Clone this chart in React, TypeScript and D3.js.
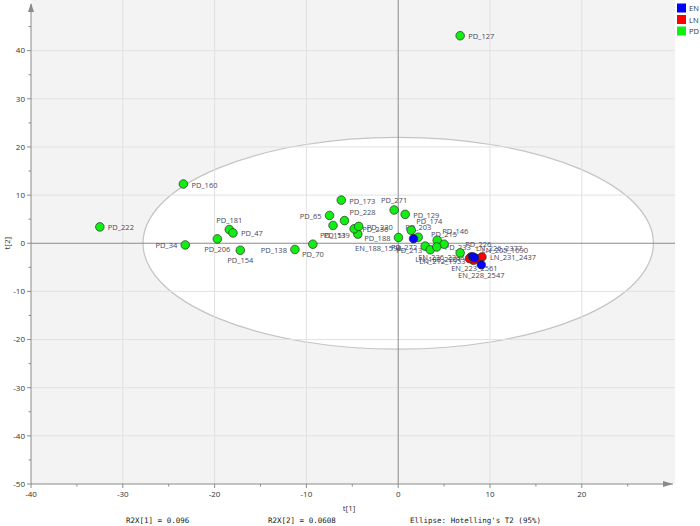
import React from "react";
import * as d3 from "d3";

// ---- data ----
const xTicks = [-40, -30, -20, -10, 0, 10, 20];
const yTicks = [-50, -40, -30, -20, -10, 0, 10, 20, 30, 40];
const groups = ["EN", "LN", "PD"];
const groupColors = ["#0000ff", "#ff0000", "#11ee11"];

// [label, t[1], t[2]]
const pdPoints: [string, number, number][] = [
  ["PD_127", 6.75, 43.1],
  ["PD_160", -23.4, 12.3],
  ["PD_222", -32.5, 3.4],
  ["PD_34", -23.2, -0.35],
  ["PD_206", -19.7, 0.9],
  ["PD_181", -18.4, 2.85],
  ["PD_47", -18.0, 2.15],
  ["PD_154", -17.2, -1.46],
  ["PD_138", -11.25, -1.3],
  ["PD_70", -9.3, -0.2],
  ["PD_65", -7.48, 5.77],
  ["PD_151", -7.1, 3.7],
  ["PD_173", -6.2, 8.96],
  ["PD_228", -5.85, 4.7],
  ["PD_139", -4.4, 1.9],
  ["PD_236", -4.8, 3.0],
  ["PD_230", -4.3, 3.5],
  ["PD_271", -0.44, 6.9],
  ["PD_129", 0.76, 6.0],
  ["PD_174", 1.42, 2.7],
  ["PD_203", 2.18, 1.25],
  ["PD_188", 0.03, 1.19],
  ["PD_272", 2.94, -0.6],
  ["PD_213", 3.49, -1.35],
  ["PD_146", 4.25, 0.63],
  ["PD_215", 5.0, -0.2],
  ["PD_233", 4.2, -0.77],
  ["PD_226", 6.75, -2.0],
];

const lnPoints: [string, number, number][] = [
  ["LN_226_2377", 7.92, -2.85],
  ["LN_205_1690", 8.57, -3.19],
  ["LN_231_2437", 9.12, -2.85],
  ["LN_212_1953", 8.2, -3.54],
  ["LN_188_2201", 7.77, -3.19],
];

const enPoints: [string, number, number][] = [
  ["EN_188_1596", 1.67, 0.95],
  ["EN_236_2388", 8.1, -2.8],
  ["EN_223_2561", 8.3, -3.0],
  ["EN_228_2547", 9.05, -4.45],
];

// label placement per point: r right, l left, a above, b below, ar above-right, bl below-left
const labelSide: Record<string, string> = {
  PD_34: "l", PD_206: "b", PD_181: "a", PD_154: "b", PD_138: "l", PD_70: "b",
  PD_65: "l", PD_151: "b", PD_228: "ar", PD_139: "l", PD_271: "a", PD_174: "ar",
  PD_203: "a", PD_188: "l", PD_272: "l", PD_213: "l", PD_146: "ar", PD_215: "a",
  PD_226: "ar", LN_226_2377: "ar", LN_205_1690: "ar", LN_212_1953: "l", LN_188_2201: "l",
  EN_188_1596: "bl", EN_236_2388: "l", EN_223_2561: "b", EN_228_2547: "b",
};

const W = 700;
const H = 526;
const PLOT_L = 31;
const PLOT_R = 675;
const PLOT_T = 0;
const PLOT_B = 484;

export default function App() {
  const x = d3.scaleLinear().domain([-40, 30]).range([PLOT_L, PLOT_L + 70 * 9.18]);
  const y = d3.scaleLinear().domain([-50, 50]).range([484, 2.5]);

  const placement = (side: string) => {
    switch (side) {
      case "l": return { dx: -8, dy: 3.5, anchor: "end" };
      case "a": return { dx: 0, dy: -7, anchor: "middle" };
      case "b": return { dx: 0, dy: 13, anchor: "middle" };
      case "ar": return { dx: 5, dy: -6, anchor: "start" };
      case "bl": return { dx: -12, dy: 12, anchor: "end" };
      default: return { dx: 8, dy: 3.5, anchor: "start" };
    }
  };

  const all = [
    ...pdPoints.map((p) => ({ p, g: 2 })),
    ...lnPoints.map((p) => ({ p, g: 1 })),
    ...enPoints.map((p) => ({ p, g: 0 })),
  ];

  const minorX = d3.range(-40, 30, 5);
  const minorY = d3.range(-50, 50, 5);
  const gridX = [-30, -20, -10, 10, 20];
  const gridY = [-40, -30, -20, -10, 10, 20, 30, 40];

  const labelFont = "'Open Sans', 'Noto Sans', sans-serif";

  return (
    <svg width={W} height={H} style={{ position: "absolute", left: 0, top: 0, background: "#fff" }}>
      {/* plot background */}
      <rect x={PLOT_L} y={PLOT_T} width={PLOT_R - PLOT_L} height={PLOT_B - PLOT_T} fill="#f3f3f3" />
      {/* ellipse */}
      <ellipse
        cx={x(0)}
        cy={y(0)}
        rx={x(27.8) - x(0)}
        ry={y(0) - y(22)}
        fill="#ffffff"
        stroke="#c4c4c4"
        strokeWidth={1.2}
      />
      {/* grid */}
      {gridX.map((v) => (
        <line key={"gx" + v} x1={x(v)} x2={x(v)} y1={PLOT_T} y2={PLOT_B} stroke="#e1e1e1" strokeWidth={1} />
      ))}
      {gridY.map((v) => (
        <line key={"gy" + v} x1={PLOT_L} x2={PLOT_R} y1={y(v)} y2={y(v)} stroke="#e1e1e1" strokeWidth={1} />
      ))}
      {/* zero lines */}
      <line x1={x(0)} x2={x(0)} y1={PLOT_T} y2={PLOT_B} stroke="#8a8a8a" strokeWidth={1} />
      <line x1={PLOT_L} x2={PLOT_R} y1={y(0)} y2={y(0)} stroke="#8a8a8a" strokeWidth={1} />

      {/* axes */}
      <line x1={PLOT_L} x2={PLOT_L} y1={PLOT_B} y2={4} stroke="#8a8a8a" strokeWidth={1} />
      <path d={`M${PLOT_L - 3},12 L${PLOT_L},3 L${PLOT_L + 3},12 Z`} fill="#8a8a8a" />
      <line x1={PLOT_L} x2={PLOT_R - 2} y1={PLOT_B} y2={PLOT_B} stroke="#8a8a8a" strokeWidth={1} />
      <path d={`M${PLOT_R - 12},${PLOT_B - 3} L${PLOT_R - 2},${PLOT_B} L${PLOT_R - 12},${PLOT_B + 3} Z`} fill="#8a8a8a" />

      {minorY.map((v) => (
        <line key={"ty" + v} x1={PLOT_L - (v % 10 === 0 ? 4 : 2.5)} x2={PLOT_L} y1={y(v)} y2={y(v)} stroke="#8a8a8a" />
      ))}
      {minorX.map((v) => (
        <line key={"tx" + v} x1={x(v)} x2={x(v)} y1={PLOT_B} y2={PLOT_B + (v % 10 === 0 ? 4 : 2.5)} stroke="#8a8a8a" />
      ))}
      {yTicks.map((v) => (
        <text key={"yl" + v} x={PLOT_L - 6} y={y(v)} dy="0.35em" textAnchor="end" fontSize={8} fill="#333" fontFamily={labelFont}>
          {v}
        </text>
      ))}
      {xTicks.map((v) => (
        <text key={"xl" + v} x={x(v)} y={PLOT_B + 13} textAnchor="middle" fontSize={8} fill="#333" fontFamily={labelFont}>
          {v}
        </text>
      ))}
      <text x={349} y={511} textAnchor="middle" fontSize={8} fill="#333" fontFamily={labelFont}>t[1]</text>
      <text transform={`translate(10,${y(0)}) rotate(-90)`} textAnchor="middle" fontSize={8} fill="#333" fontFamily={labelFont}>t[2]</text>

      {/* footer */}
      <text x={126} y={523} fontSize={7.5} fill="#222" fontFamily="'DejaVu Sans Mono', 'Liberation Mono', monospace">R2X[1] = 0.096</text>
      <text x={268} y={523} fontSize={7.5} fill="#222" fontFamily="'DejaVu Sans Mono', 'Liberation Mono', monospace">R2X[2] = 0.0608</text>
      <text x={410} y={523} fontSize={7.5} fill="#222" fontFamily="'DejaVu Sans Mono', 'Liberation Mono', monospace">Ellipse: Hotelling's T2 (95%)</text>

      {/* labels */}
      {all.map(({ p }, i) => {
        const pl = placement(labelSide[p[0]] || "r");
        return (
          <text
            key={"lab" + i}
            x={x(p[1]) + pl.dx}
            y={y(p[2]) + pl.dy}
            textAnchor={pl.anchor as any}
            fontSize={7.5}
            fill="#4a4658"
            fontFamily={labelFont}
          >
            {p[0]}
          </text>
        );
      })}
      {/* points */}
      {all.map(({ p, g }, i) => (
        <circle key={"pt" + i} cx={x(p[1])} cy={y(p[2])} r={4.3} fill={groupColors[g]} stroke="#2b2b2b" strokeWidth={0.7} />
      ))}

      {/* legend */}
      {groups.map((gname, i) => (
        <g key={"lg" + gname} transform={`translate(677,${3.5 + i * 11.5})`}>
          <rect x={0} y={0} width={9} height={9} fill={groupColors[i]} />
          <text x={12} y={7.5} fontSize={7.5} fill="#333" fontFamily={labelFont}>{gname}</text>
        </g>
      ))}
    </svg>
  );
}
